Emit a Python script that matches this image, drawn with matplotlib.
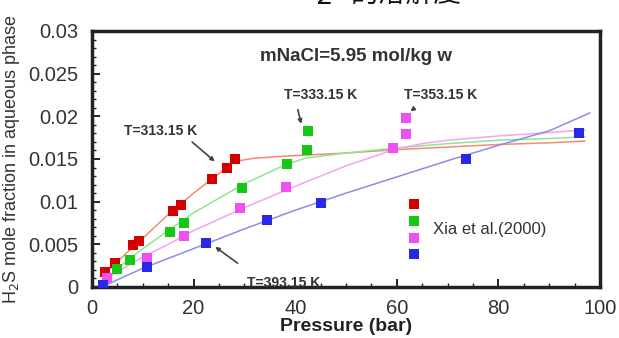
import numpy as np
import matplotlib
matplotlib.use('Agg')
import matplotlib.pyplot as plt
from matplotlib.lines import Line2D
from matplotlib.ticker import MultipleLocator

plt.rcParams['font.family'] = ['Liberation Sans', 'DejaVu Sans']

#Experimental data (Xia et al. 2000), pressure in bar, H2S mole fraction
p_313 = [2.6, 4.5, 8.0, 9.3, 16.0, 17.6, 23.6, 26.5, 28.2]
x_313 = [0.0018, 0.0028, 0.0049, 0.0054, 0.0089, 0.0096, 0.0126, 0.0140, 0.0150]
p_333 = [5.0, 7.5, 15.4, 18.1, 29.5, 38.3, 42.4, 42.6]
x_333 = [0.0021, 0.0032, 0.0064, 0.0075, 0.0116, 0.0144, 0.0161, 0.0183]
p_353 = [2.9, 10.8, 18.2, 29.1, 38.2, 59.2, 61.8, 61.9]
x_353 = [0.0011, 0.0034, 0.0060, 0.0092, 0.0117, 0.0163, 0.0179, 0.0198]
p_393 = [2.2, 10.9, 22.4, 34.4, 45.0, 73.6, 95.8]
x_393 = [0.0002, 0.0023, 0.0051, 0.0079, 0.0099, 0.0150, 0.0181]

#Model curves
pm_313 = [2.5, 5, 10, 15, 20, 25, 28, 32, 40, 50, 60, 70, 80, 90, 97]
xm_313 = [0.0015, 0.003, 0.0057, 0.0085, 0.011, 0.0133, 0.0147, 0.0151, 0.0154, 0.0157, 0.0161, 0.0164, 0.0167, 0.0169, 0.0171]
pm_333 = [3, 5, 10, 15, 20, 30, 38, 42, 50, 60, 70, 80, 90, 97]
xm_333 = [0.0012, 0.0022, 0.0045, 0.0066, 0.0087, 0.0121, 0.0143, 0.0151, 0.0157, 0.0163, 0.0168, 0.0172, 0.0174, 0.0176]
pm_353 = [2.5, 5, 10, 15, 20, 30, 40, 50, 60, 65, 70, 80, 90, 97]
xm_353 = [0.0008, 0.0018, 0.0035, 0.005, 0.0066, 0.0093, 0.0118, 0.0142, 0.0162, 0.0168, 0.0172, 0.0177, 0.0181, 0.0184]
pm_393 = [3, 10, 20, 30, 40, 50, 60, 70, 80, 90, 98]
xm_393 = [0.0003, 0.0022, 0.0045, 0.0068, 0.009, 0.011, 0.0129, 0.0148, 0.0166, 0.0183, 0.0204]

marker_colors = ['#d40000', '#14c814', '#f050f0', '#2828e6']
line_colors = ['#f48a70', '#8ee68e', '#f4a4f0', '#8c8ce8']

fig = plt.figure(figsize=(6.19, 3.38), dpi=100)
ax = fig.add_axes([0.1486, 0.1509, 0.8207, 0.7574])

curves = [(pm_313, xm_313), (pm_333, xm_333), (pm_353, xm_353), (pm_393, xm_393)]
points = [(p_313, x_313), (p_333, x_333), (p_353, x_353), (p_393, x_393)]
for i in range(4):
    ax.plot(curves[i][0], curves[i][1], color=line_colors[i], lw=1.1, zorder=2)
for i in range(4):
    ax.plot(points[i][0], points[i][1], 's', color=marker_colors[i], ms=7, mew=0, zorder=3)

ax.set_xlim(0, 100)
ax.set_ylim(0, 0.03)
ax.xaxis.set_major_locator(MultipleLocator(20))
ax.xaxis.set_minor_locator(MultipleLocator(5))
ax.yaxis.set_minor_locator(MultipleLocator(0.001))
ax.set_yticks([0, 0.005, 0.01, 0.015, 0.02, 0.025, 0.03])
ax.set_yticklabels(['0', '0.005', '0.01', '0.015', '0.02', '0.025', '0.03'])
ax.tick_params(which='both', direction='in', top=False, right=False, labelsize=14.5, labelcolor='#333333', color='#222222')
ax.tick_params(which='major', length=6, width=1.4)
ax.tick_params(axis='y', pad=10)
ax.tick_params(axis='x', pad=9)
ax.tick_params(which='minor', length=3, width=1.0)
for s in ax.spines.values():
    s.set_linewidth(2.5)
    s.set_color('#222222')

ax.set_xlabel('Pressure (bar)', fontsize=14, fontweight='bold', color='#222222', labelpad=0)
ax.set_ylabel('H$_2$S mole fraction in aqueous phase', fontsize=13, color='#333333')
ax.yaxis.set_label_coords(-0.138, 0.5)

ax.text(52, 0.0270, 'mNaCl=5.95 mol/kg w', ha='center', va='center', fontsize=13.5, fontweight='bold', color='#333333')

arrow = dict(arrowstyle='-|>', color='#444444', lw=1.2, mutation_scale=6)
lab = dict(ha='center', va='center', fontsize=10, fontweight='bold', color='#333333')
ax.annotate('', xy=(24.6, 0.0145), xytext=(19.3, 0.0172), arrowprops=arrow)
ax.text(13.6, 0.0183, 'T=313.15 K', **lab)
ax.annotate('', xy=(41.3, 0.0188), xytext=(40.4, 0.0211), arrowprops=arrow)
ax.text(45.1, 0.0225, 'T=333.15 K', **lab)
ax.annotate('', xy=(62.2, 0.0204), xytext=(63.6, 0.0210), arrowprops=arrow)
ax.text(68.7, 0.0225, 'T=353.15 K', **lab)
ax.annotate('', xy=(23.8, 0.0049), xytext=(29.1, 0.0026), arrowprops=arrow)
ax.text(37.7, 0.0005, 'T=393.15 K', **lab)

#Legend: four marker colors sharing one label
handles = [Line2D([], [], ls='none', marker='s', color=c, ms=7, mew=0) for c in marker_colors]
ax.legend(handles, ['', '', '', ''], loc='center', bbox_to_anchor=(0.634, 0.222), frameon=False,
          handlelength=1, handletextpad=0, labelspacing=0.2, borderpad=0)
ax.text(67.1, 0.0067, 'Xia et al.(2000)', ha='left', va='center', fontsize=12, color='#333333')

#Partially visible title cut by the top edge
fig.text(0.581, 1 + 1 / 338, 'H$_2$S', ha='right', va='baseline', fontsize=28, color='#111111')
fig.text(0.566, 1 - 2 / 338, '的溶解度', ha='left', va='baseline', fontsize=20,
         family=['Noto Sans CJK SC', 'DejaVu Sans'], color='#111111')

fig.savefig('out.png', dpi=100)
